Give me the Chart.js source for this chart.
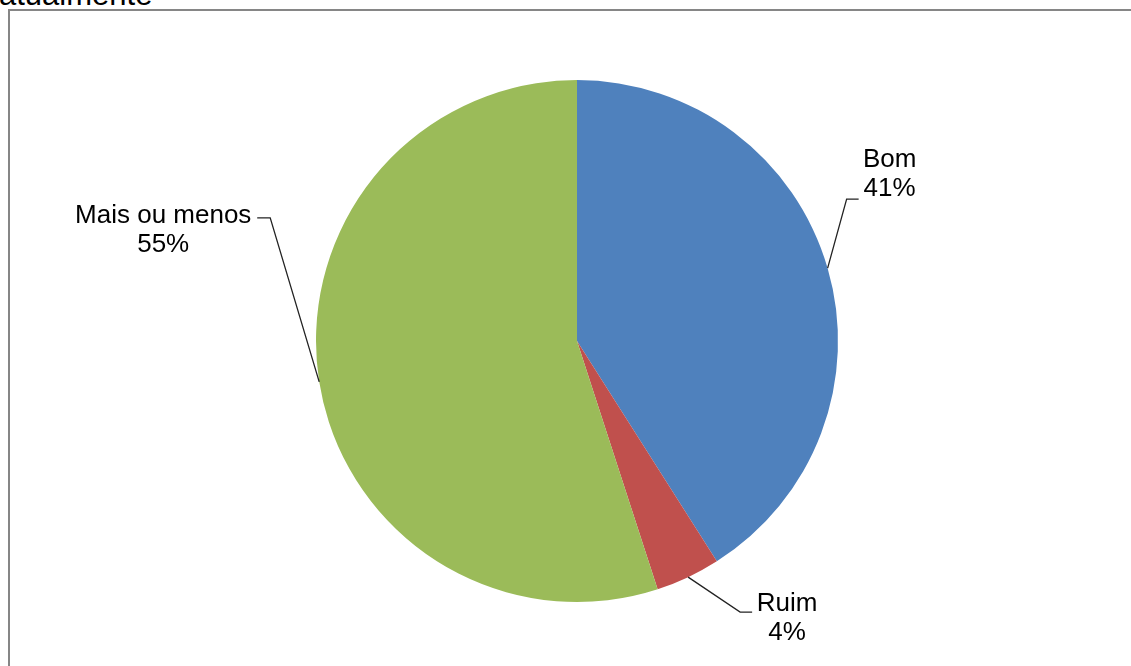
<!DOCTYPE html>
<html>
<head>
<meta charset="utf-8">
<script src="https://cdn.jsdelivr.net/npm/chart.js@4"></script>
<style>
  body { margin: 0; background: #fff; overflow: hidden; }
  #title {
    position: absolute; left: -1px; top: -21px;
    font: 31px "Liberation Sans", Arial, sans-serif; line-height: 31px; color: #000;
  }
  #frame {
    position: absolute; left: 8px; top: 9px; width: 1140px; height: 680px;
    border: 2px solid #868686;
  }
  #wrap { position: absolute; left: 0; top: 0; width: 1131px; height: 666px; }
</style>
</head>
<body>
<div id="title">atualmente</div>
<div id="frame"></div>
<div id="wrap"><canvas id="pieChart"></canvas></div>
<script>
// Chart data
const categories = ['Bom', 'Ruim', 'Mais ou menos'];
const percentages = [41, 4, 55];
const sliceColors = ['#4f81bd', '#c0504d', '#9bbb59'];

// Where each label sits relative to its slice (elbow offset from the arc, tick length, text offset from tick end)
const labelLayout = [
  { elbow: [19, -69], tick: 12, text: [31, -39] },
  { elbow: [52, 35], tick: 12, text: [35, -8] },
  { elbow: [-49, -164], tick: -13, text: [-94, -2] }
];

// Plugin drawing the leader lines and the "name / xx%" labels
const leaderLabels = {
  id: 'leaderLabels',
  afterDatasetsDraw(chart) {
    const ctx = chart.ctx;
    const arcs = chart.getDatasetMeta(0).data;
    ctx.save();
    arcs.forEach((arc, i) => {
      const p = arc.getProps(['x', 'y', 'startAngle', 'endAngle', 'outerRadius'], true);
      const mid = (p.startAngle + p.endAngle) / 2;
      const ax = p.x + Math.cos(mid) * p.outerRadius;
      const ay = p.y + Math.sin(mid) * p.outerRadius;
      const lay = labelLayout[i];
      const ex = ax + lay.elbow[0];
      const ey = ay + lay.elbow[1];
      const tx = ex + lay.tick;

      ctx.strokeStyle = '#222';
      ctx.lineWidth = 1.3;
      ctx.beginPath();
      ctx.moveTo(ax, ay);
      ctx.lineTo(ex, ey);
      ctx.lineTo(tx, ey);
      ctx.stroke();

      const cx = tx + lay.text[0];
      const cy = ey + lay.text[1];
      ctx.fillStyle = '#000';
      ctx.font = '26px "Liberation Sans", Arial, sans-serif';
      ctx.textAlign = 'center';
      ctx.textBaseline = 'middle';
      ctx.fillText(categories[i], cx, cy);
      ctx.fillText(percentages[i] + '%', cx, cy + 29);
    });
    ctx.restore();
  }
};

const ctx = document.getElementById('pieChart').getContext('2d');
const myChart = new Chart(ctx, {
  type: 'pie',
  data: {
    labels: categories,
    datasets: [{
      data: percentages,
      backgroundColor: sliceColors,
      borderWidth: 0,
      hoverOffset: 0,
      offset: 0
    }]
  },
  options: {
    responsive: true,
    maintainAspectRatio: false,
    animation: false,
    layout: {
      padding: { left: 316, right: 293, top: 80, bottom: 64 }
    },
    plugins: {
      legend: { display: false },
      tooltip: { enabled: false }
    }
  },
  plugins: [leaderLabels]
});
</script>
</body>
</html>
